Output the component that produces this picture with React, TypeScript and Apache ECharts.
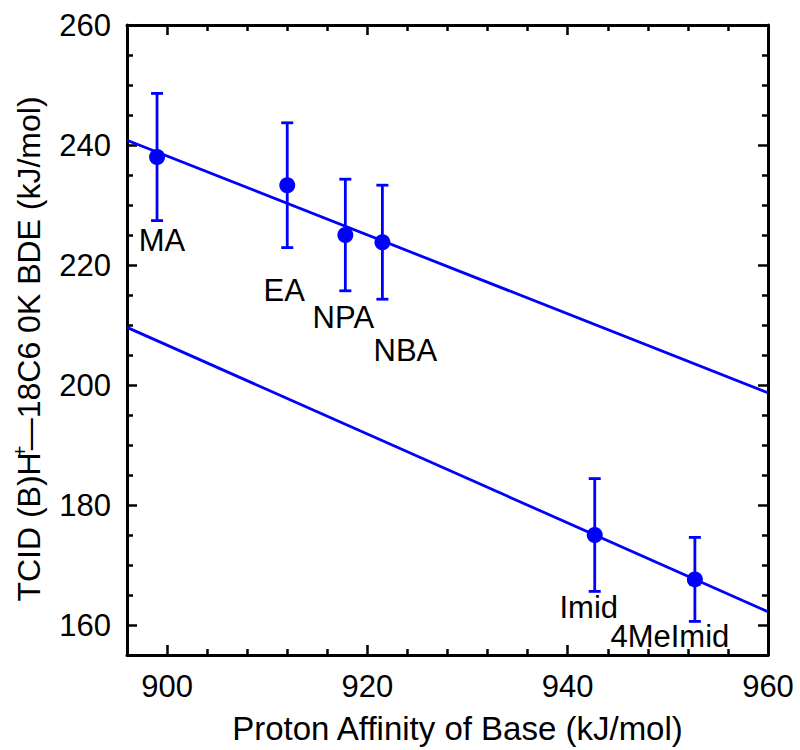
import React, { useEffect, useRef } from "react";
import * as echarts from "echarts";

// ---- data ----
const bases = ["MA", "EA", "NPA", "NBA", "Imid", "4MeImid"];
const protonAffinity = [899.0, 912.0, 917.8, 921.5, 942.7, 952.7];
const bde = [238.0, 233.3, 225.0, 223.8, 175.0, 167.6];
const bdeErr = [10.6, 10.4, 9.3, 9.5, 9.4, 7.0];

const fitUpperX = [896, 960];
const fitUpperY = [240.8, 198.7];
const fitLowerX = [896, 960];
const fitLowerY = [209.6, 162.2];

const xMajorTicks = [900, 920, 940, 960];
const xMinorTicks = [904, 908, 912, 916, 924, 928, 932, 936, 944, 948, 952, 956];
const yMajorTicks = [160, 180, 200, 220, 240, 260];
const yMinorTicks = [165, 170, 175, 185, 190, 195, 205, 210, 215, 225, 230, 235, 245, 250, 255];

// ---- layout (pixel offsets of labels from their points) ----
const labelOffset: Record<string, [number, number]> = {
  MA: [5, 83],
  EA: [-3, 105],
  NPA: [-2, 82],
  NBA: [23, 108],
  Imid: [-6, 72],
  "4MeImid": [-25, 57],
};

const BLUE = "#0000ff";
const FONT = "Liberation Sans";

export default function App() {
  const ref = useRef<HTMLDivElement>(null);

  useEffect(() => {
    if (!ref.current) return;
    const chart = echarts.init(ref.current, undefined, { renderer: "svg" });

    const xBase = { type: "value", min: 896, max: 960, gridIndex: 0, splitLine: { show: false } };
    const yBase = { type: "value", min: 155, max: 260, gridIndex: 0, splitLine: { show: false } };
    const axisLine = { show: true, onZero: false, lineStyle: { color: "#000", width: 3 } };
    const noLine = { show: false, onZero: false };
    const tickStyle = { color: "#000", width: 2.5 };

    const xAxes = [
      {
        ...xBase,
        position: "bottom",
        axisLine,
        axisTick: { show: true, inside: true, length: 10, lineStyle: tickStyle, customValues: xMajorTicks },
        axisLabel: { show: true, customValues: xMajorTicks, fontSize: 31, fontFamily: FONT, color: "#000", margin: 16 },
        name: "Proton Affinity of Base (kJ/mol)",
        nameLocation: "middle",
        nameGap: 57,
        nameTextStyle: { fontSize: 33, fontFamily: FONT, color: "#000", padding: [0, 0, 0, 20] },
      },
      {
        ...xBase,
        position: "bottom",
        axisLine: noLine,
        axisTick: { show: true, inside: true, length: 6, lineStyle: tickStyle, customValues: xMinorTicks },
        axisLabel: { show: false },
      },
      {
        ...xBase,
        position: "top",
        axisLine,
        axisTick: { show: true, inside: true, length: 10, lineStyle: tickStyle, customValues: xMajorTicks },
        axisLabel: { show: false },
      },
      {
        ...xBase,
        position: "top",
        axisLine: noLine,
        axisTick: { show: true, inside: true, length: 6, lineStyle: tickStyle, customValues: xMinorTicks },
        axisLabel: { show: false },
      },
    ];

    const yAxes = [
      {
        ...yBase,
        position: "left",
        axisLine,
        axisTick: { show: true, inside: true, length: 10, lineStyle: tickStyle, customValues: yMajorTicks },
        axisLabel: { show: true, customValues: yMajorTicks, fontSize: 31, fontFamily: FONT, color: "#000", margin: 16 },
        name: "TCID (B)H{sup|+}—18C6 0K BDE (kJ/mol)",
        nameLocation: "middle",
        nameGap: 80,
        nameTextStyle: {
          fontSize: 32,
          fontFamily: FONT,
          color: "#000",
          padding: [0, 18, 0, 0],
          rich: {
            sup: { fontSize: 20, fontFamily: FONT, color: "#000", verticalAlign: "bottom", padding: [0, 0, 17, 0], width: 2 },
          },
        },
      },
      {
        ...yBase,
        position: "left",
        axisLine: noLine,
        axisTick: { show: true, inside: true, length: 6, lineStyle: tickStyle, customValues: yMinorTicks },
        axisLabel: { show: false },
      },
      {
        ...yBase,
        position: "right",
        axisLine,
        axisTick: { show: true, inside: true, length: 10, lineStyle: tickStyle, customValues: yMajorTicks },
        axisLabel: { show: false },
      },
      {
        ...yBase,
        position: "right",
        axisLine: noLine,
        axisTick: { show: true, inside: true, length: 6, lineStyle: tickStyle, customValues: yMinorTicks },
        axisLabel: { show: false },
      },
    ];

    const pointData = bases.map((b, i) => ({
      name: b,
      value: [protonAffinity[i], bde[i]],
      label: {
        show: true,
        formatter: b,
        position: "inside",
        offset: labelOffset[b],
        fontSize: 31,
        fontFamily: FONT,
        color: "#000",
        opacity: 1,
      },
    }));

    const errData = bases.map((b, i) => [protonAffinity[i], bde[i] - bdeErr[i], bde[i] + bdeErr[i]]);

    chart.setOption({
      animation: false,
      backgroundColor: "#fff",
      grid: { left: 127, right: 32, top: 25, bottom: 94, containLabel: false },
      xAxis: xAxes,
      yAxis: yAxes,
      series: [
        {
          type: "line",
          xAxisIndex: 0,
          yAxisIndex: 0,
          data: fitUpperX.map((x, i) => [x, fitUpperY[i]]),
          showSymbol: false,
          symbol: "none",
          lineStyle: { color: BLUE, width: 2.8 },
          z: 2,
        },
        {
          type: "line",
          xAxisIndex: 0,
          yAxisIndex: 0,
          data: fitLowerX.map((x, i) => [x, fitLowerY[i]]),
          showSymbol: false,
          symbol: "none",
          lineStyle: { color: BLUE, width: 2.8 },
          z: 2,
        },
        {
          type: "custom",
          xAxisIndex: 0,
          yAxisIndex: 0,
          data: errData,
          z: 3,
          renderItem: (params: any, api: any) => {
            const x = api.value(0);
            const lo = api.coord([x, api.value(1)]);
            const hi = api.coord([x, api.value(2)]);
            const hw = 6;
            const style = { stroke: BLUE, lineWidth: 2.8 };
            return {
              type: "group",
              children: [
                { type: "line", shape: { x1: lo[0], y1: lo[1], x2: hi[0], y2: hi[1] }, style },
                { type: "line", shape: { x1: lo[0] - hw, y1: lo[1], x2: lo[0] + hw, y2: lo[1] }, style },
                { type: "line", shape: { x1: hi[0] - hw, y1: hi[1], x2: hi[0] + hw, y2: hi[1] }, style },
              ],
            };
          },
        },
        {
          type: "scatter",
          xAxisIndex: 0,
          yAxisIndex: 0,
          data: pointData,
          symbol: "circle",
          symbolSize: 16,
          itemStyle: { color: BLUE, opacity: 1 },
          z: 4,
        },
      ],
    });

    return () => chart.dispose();
  }, []);

  return (
    <div
      ref={ref}
      style={{ position: "absolute", left: 0, top: 0, width: 800, height: 750, background: "#fff" }}
    />
  );
}
